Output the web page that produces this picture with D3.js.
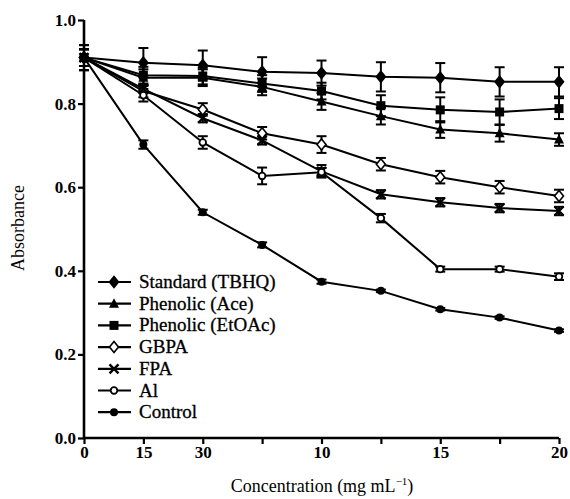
<!DOCTYPE html>
<html>
<head>
  <meta charset="utf-8">
  <title>Absorbance vs concentration</title>
  <script src="https://cdn.jsdelivr.net/npm/d3@7"></script>
  <style>
    body { margin: 0; background: #fff; }
    svg text { font-family: "Liberation Serif", "DejaVu Serif", serif; fill: #000; }
  </style>
</head>
<body>
<svg id="chart" width="570" height="499"></svg>
<script>
  // tick labels as printed on the original axis (9 evenly spaced positions)
  var xLabels = ["0", "15", "30", "", "10", "", "15", "", "20"];
  var xIdx = [0, 1, 2, 3, 4, 5, 6, 7, 8];

  var names = ["Standard (TBHQ)", "Phenolic (Ace)", "Phenolic (EtOAc)", "GBPA", "FPA", "Al", "Control"];
  var markers = ["diamond", "triangle", "square", "odiamond", "cross", "ocircle", "circle"];

  var tbhq    = [0.910, 0.898, 0.892, 0.876, 0.873, 0.864, 0.862, 0.852, 0.852];
  var ace     = [0.910, 0.862, 0.862, 0.840, 0.805, 0.770, 0.738, 0.729, 0.714];
  var etoac   = [0.910, 0.868, 0.866, 0.848, 0.830, 0.795, 0.785, 0.780, 0.788];
  var gbpa    = [0.910, 0.830, 0.786, 0.729, 0.702, 0.655, 0.624, 0.600, 0.579];
  var fpa     = [0.910, 0.835, 0.765, 0.712, 0.638, 0.583, 0.564, 0.550, 0.543];
  var al      = [0.910, 0.820, 0.707, 0.627, 0.636, 0.526, 0.404, 0.404, 0.386];
  var control = [0.910, 0.702, 0.540, 0.462, 0.374, 0.352, 0.308, 0.288, 0.257];

  var tbhqErr    = [0.03, 0.035, 0.035, 0.035, 0.03, 0.035, 0.035, 0.035, 0.035];
  var aceErr     = [0.03, 0.02, 0.02, 0.02, 0.02, 0.02, 0.02, 0.02, 0.015];
  var etoacErr   = [0.03, 0.02, 0.02, 0.02, 0.02, 0.025, 0.03, 0.03, 0.025];
  var gbpaErr    = [0.02, 0.015, 0.015, 0.015, 0.02, 0.015, 0.015, 0.015, 0.015];
  var fpaErr     = [0.02, 0.01, 0.01, 0.01, 0.015, 0.01, 0.01, 0.01, 0.01];
  var alErr      = [0.02, 0.015, 0.015, 0.02, 0.01, 0.01, 0.006, 0.006, 0.008];
  var controlErr = [0.02, 0.01, 0.006, 0.006, 0.005, 0.003, 0.003, 0.003, 0.003];

  var values = [tbhq, ace, etoac, gbpa, fpa, al, control];
  var errors = [tbhqErr, aceErr, etoacErr, gbpaErr, fpaErr, alErr, controlErr];
  var yTicks = [0, 0.2, 0.4, 0.6, 0.8, 1.0];

  var svg = d3.select("#chart");
  var x = d3.scaleLinear().domain([0, 8]).range([84, 559]);
  var y = d3.scaleLinear().domain([0, 1]).range([438, 20]);

  function drawMarker(g, type, cx, cy) {
    var r = 4.5;
    if (type == "diamond" || type == "odiamond") {
      g.append("path")
        .attr("d", "M" + cx + "," + (cy - r - 1) + "L" + (cx + r) + "," + cy + "L" + cx + "," + (cy + r + 1) + "L" + (cx - r) + "," + cy + "Z")
        .attr("fill", type == "diamond" ? "#000" : "#fff").attr("stroke", "#000").attr("stroke-width", 1.6);
    } else if (type == "triangle") {
      g.append("path")
        .attr("d", "M" + cx + "," + (cy - r - 1) + "L" + (cx + r + 0.5) + "," + (cy + r - 0.5) + "L" + (cx - r - 0.5) + "," + (cy + r - 0.5) + "Z")
        .attr("fill", "#000");
    } else if (type == "square") {
      g.append("rect").attr("x", cx - r).attr("y", cy - r).attr("width", 2 * r).attr("height", 2 * r).attr("fill", "#000");
    } else if (type == "cross") {
      g.append("path")
        .attr("d", "M" + (cx - r) + "," + (cy - r) + "L" + (cx + r) + "," + (cy + r) + "M" + (cx + r) + "," + (cy - r) + "L" + (cx - r) + "," + (cy + r))
        .attr("stroke", "#000").attr("stroke-width", 2.4);
    } else if (type == "ocircle") {
      g.append("circle").attr("cx", cx).attr("cy", cy).attr("r", 3.3).attr("fill", "#fff").attr("stroke", "#000").attr("stroke-width", 1.8);
    } else {
      g.append("circle").attr("cx", cx).attr("cy", cy).attr("r", 4).attr("fill", "#000");
    }
  }

  var line = d3.line().x(function(d, i) { return x(xIdx[i]); }).y(function(d) { return y(d); });

  // error bars
  values.forEach(function(vals, s) {
    var g = svg.append("g");
    vals.forEach(function(v, i) {
      var e = errors[s][i], cx = x(xIdx[i]);
      g.append("line").attr("x1", cx).attr("x2", cx).attr("y1", y(v - e)).attr("y2", y(v + e)).attr("stroke", "#000").attr("stroke-width", 2);
      [v - e, v + e].forEach(function(c) {
        g.append("line").attr("x1", cx - 5).attr("x2", cx + 5).attr("y1", y(c)).attr("y2", y(c)).attr("stroke", "#000").attr("stroke-width", 2);
      });
    });
  });

  // lines
  values.forEach(function(vals) {
    svg.append("path").attr("d", line(vals)).attr("fill", "none").attr("stroke", "#000").attr("stroke-width", 2);
  });

  // markers
  values.forEach(function(vals, s) {
    var g = svg.append("g");
    vals.forEach(function(v, i) { drawMarker(g, markers[s], x(xIdx[i]), y(v)); });
  });

  // axes
  var xAxis = d3.axisBottom(x).tickValues(xIdx).tickSize(6).tickPadding(2)
    .tickFormat(function(d) { return xLabels[d]; });
  var gx = svg.append("g").attr("transform", "translate(0,438)").call(xAxis);
  var yAxis = d3.axisLeft(y).tickValues(yTicks).tickSize(6).tickPadding(2).tickFormat(d3.format(".1f"));
  var gy = svg.append("g").attr("transform", "translate(84,0)").call(yAxis);

  [gx, gy].forEach(function(g) {
    g.select(".domain").attr("stroke-width", 2.6);
    g.selectAll(".tick line").attr("stroke-width", 2.2);
    g.selectAll("text").attr("font-family", "Liberation Serif").attr("font-size", 17).attr("font-weight", "bold");
  });
  gx.select(".domain").attr("d", "M84,0H559");
  gy.select(".domain").attr("d", "M0,438V20");

  svg.append("text").attr("x", 322).attr("y", 492).attr("text-anchor", "middle")
    .attr("font-family", "Liberation Serif").attr("font-size", 18)
    .html('Concentration (mg mL<tspan dy="-7" font-size="11">\u22121</tspan><tspan dy="7">)</tspan>');
  svg.append("text").attr("transform", "translate(24,228) rotate(-90)").attr("text-anchor", "middle")
    .attr("font-family", "Liberation Serif").attr("font-size", 18)
    .text("Absorbance");

  // legend
  var lg = svg.append("g");
  names.forEach(function(n, i) {
    var ly = 282 + i * 21.7;
    lg.append("line").attr("x1", 98).attr("x2", 131).attr("y1", ly).attr("y2", ly).attr("stroke", "#000").attr("stroke-width", 2.2);
    drawMarker(lg, markers[i], 114, ly);
    lg.append("text").attr("x", 139).attr("y", ly + 6)
      .attr("font-family", "Liberation Serif").attr("font-size", 19)
      .attr("stroke", "#000").attr("stroke-width", 0.3)
      .text(n);
  });
</script>
</body>
</html>
